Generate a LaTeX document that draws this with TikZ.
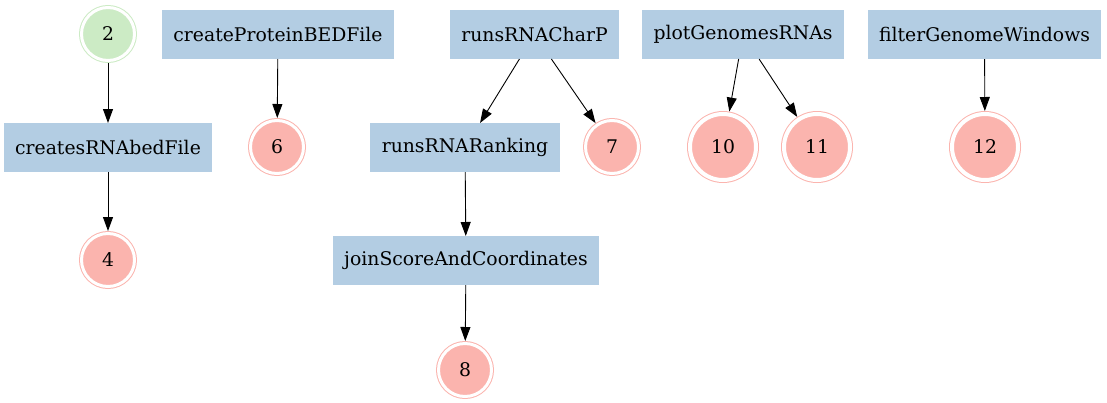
\documentclass[tikz,border=0pt]{standalone}
\usepackage{fontspec}
\setmainfont{DejaVu Serif}
\usepackage{xcolor}
\usepackage{tikz}
\usetikzlibrary{arrows.meta,positioning}
\definecolor{TaskBlue}{RGB}{179,205,227}
\definecolor{OutRed}{RGB}{251,180,174}
\definecolor{InGreen}{RGB}{204,235,197}

\begin{document}
\begin{tikzpicture}[x=1pt,y=-1pt,
task/.style={fill=TaskBlue,minimum height=49pt,inner xsep=11.5pt,outer sep=0pt,font=\fontsize{18.8}{22}\selectfont},
file/.style={circle,fill=OutRed,draw=OutRed,double=white,double distance=3pt,line width=1pt,minimum size=53pt,inner sep=0pt,outer sep=2.5pt,font=\fontsize{18.8}{22}\selectfont},
bigfile/.style={file,minimum size=66pt,double distance=4pt,outer sep=3pt},
infile/.style={file,fill=InGreen,draw=InGreen},
arr/.style={-{Triangle[length=14pt,width=10pt]},line width=0.9pt}
]
\useasboundingbox (0,0) rectangle (1107,402);
\node[infile] (f2) at (108,34) {2};
\node[task] (protbed) at (278,34.5) {createProteinBEDFile};
\node[task] (charp) at (534.5,34.5) {runsRNACharP};
\node[task] (plotgen) at (743,34.5) {plotGenomesRNAs};
\node[task] (filtwin) at (984.5,34.5) {filterGenomeWindows};
\node[task] (srnabed) at (108,147.5) {createsRNAbedFile};
\node[file] (f6) at (277,147) {6};
\node[task] (rank) at (465,147.5) {runsRNARanking};
\node[file] (f7) at (612,147) {7};
\node[bigfile] (f10) at (723,147) {10};
\node[bigfile] (f11) at (817,147) {11};
\node[bigfile] (f12) at (985,147) {12};
\node[file] (f4) at (108,260) {4};
\node[task] (joinsc) at (466,260.5) {joinScoreAndCoordinates};
\node[file] (f8) at (465,370) {8};
\draw[arr] (f2)--(srnabed); \draw[arr] (srnabed)--(f4); \draw[arr] (protbed)--(f6);
\draw[arr] (charp)--(rank); \draw[arr] (charp)--(f7); \draw[arr] (rank)--(joinsc); \draw[arr] (joinsc)--(f8);
\draw[arr] (plotgen)--(f10); \draw[arr] (plotgen)--(f11); \draw[arr] (filtwin)--(f12);
\end{tikzpicture}
\end{document}
